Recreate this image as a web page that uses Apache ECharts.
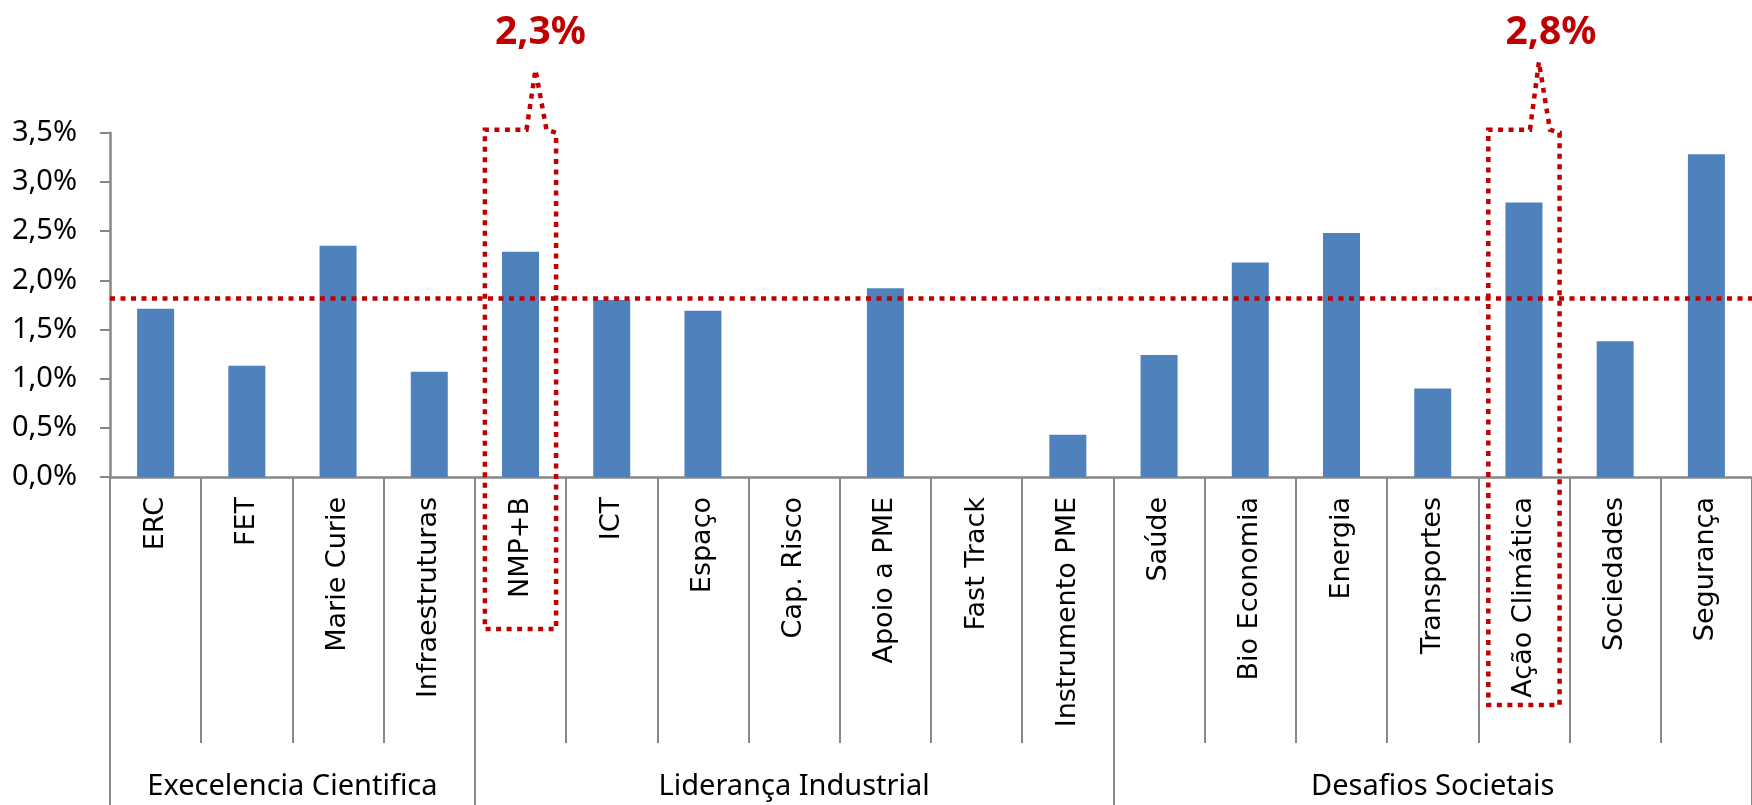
<!DOCTYPE html>
<html>
<head>
<meta charset="utf-8">
<script src="https://cdn.jsdelivr.net/npm/echarts@6/dist/echarts.min.js"></script>
<style>
html,body{margin:0;padding:0;background:#fff;}
#c{width:1752px;height:805px;}
</style>
</head>
<body>
<div id="c"></div>
<script>
const categories = ['ERC','FET','Marie Curie','Infraestruturas','NMP+B','ICT','Espaço','Cap. Risco','Apoio a PME','Fast Track','Instrumento PME','Saúde','Bio Economia','Energia','Transportes','Ação Climática','Sociedades','Segurança'];
const values = [1.71,1.13,2.35,1.07,2.29,1.80,1.69,0,1.92,0,0.43,1.24,2.18,2.48,0.90,2.79,1.38,3.28];
const groupNames = ['Execelencia Cientifica','Liderança Industrial','Desafios Societais'];
const groupStarts = [0,4,11];
const groupSizes = [4,7,7];
const yMin = 0, yMax = 3.5, yStep = 0.5;
const mediaGlobal = 1.82;
const destaques = ['NMP+B','Ação Climática'];

const RED = '#C00000';
const GRAY = '#878787';
const fmt = v => v.toFixed(1).replace('.', ',') + '%';

const chart = echarts.init(document.getElementById('c'), null, {renderer:'canvas'});
const option = {
  animation:false,
  backgroundColor:'#fff',
  grid:{left:110, right:-3, top:132.7, bottom:328, containLabel:false},
  xAxis:[{
    type:'category', data:categories, position:'bottom',
    axisLine:{show:true, lineStyle:{color:GRAY, width:2.5}},
    axisTick:{show:true, interval:0, length:266, lineStyle:{color:GRAY, width:2}},
    axisLabel:{show:true, interval:0, rotate:90, margin:20, color:'#000', fontFamily:'DejaVu Sans', fontSize:27}
  },{
    type:'category', data:categories, position:'bottom',
    axisLine:{show:false},
    axisTick:{show:true, length:328, interval:function(i){return groupStarts.indexOf(i) >= 0;}, lineStyle:{color:GRAY, width:2}},
    axisLabel:{show:false}
  }],
  yAxis:{
    type:'value', min:yMin, max:yMax, interval:yStep,
    axisLine:{show:true, lineStyle:{color:GRAY, width:2.5}},
    axisTick:{show:true, length:10, lineStyle:{color:GRAY, width:2}},
    splitLine:{show:false},
    axisLabel:{margin:33, color:'#000', fontFamily:'Noto Sans', fontSize:29, formatter:fmt}
  },
  series:[{
    type:'bar', data:values, barWidth:37, xAxisIndex:0,
    itemStyle:{color:'#4F81BD', borderWidth:0},
    markLine:{
      silent:true, symbol:['none','none'], label:{show:false},
      lineStyle:{color:RED, width:4.5, type:[5,5.5], cap:'butt'},
      data:[{yAxis:mediaGlobal}]
    }
  }]
};
chart.setOption(option);

// annotation callouts and group labels, placed via the chart's own scales
const y0 = chart.convertToPixel({yAxisIndex:0}, 0);
const yTop = chart.convertToPixel({yAxisIndex:0}, 3.53);
const band = chart.convertToPixel({xAxisIndex:0}, categories[1]) - chart.convertToPixel({xAxisIndex:0}, categories[0]);
const boxDrop = {'NMP+B':152, 'Ação Climática':228};
const tipY = {'NMP+B':70, 'Ação Climática':62};
const textDx = {'NMP+B':20, 'Ação Climática':27};
const elements = [];
destaques.forEach(name => {
  const idx = categories.indexOf(name);
  const cx = chart.convertToPixel({xAxisIndex:0}, name);
  const L = cx - band/2 + 10, R = cx + band/2 - 10;
  const B = y0 + boxDrop[name];
  elements.push({
    type:'polygon', z:100,
    shape:{points:[[cx+6,yTop],[cx+15,tipY[name]],[cx+26,yTop],[R,yTop+3],[R,B],[L,B],[L,yTop]]},
    style:{fill:null, stroke:RED, lineWidth:4.5, lineDash:[5,5.5]}
  });
  elements.push({
    type:'text', z:101, x:cx+textDx[name], y:33,
    style:{text:fmt(values[idx]), fill:RED, font:'bold 39px "Noto Sans"', align:'center', verticalAlign:'middle'}
  });
});
groupNames.forEach((g, k) => {
  const first = categories[groupStarts[k]];
  const last = categories[groupStarts[k] + groupSizes[k] - 1];
  const x1 = chart.convertToPixel({xAxisIndex:0}, first) - band/2;
  let x2 = chart.convertToPixel({xAxisIndex:0}, last) + band/2;
  x2 = Math.min(x2, 1752);
  elements.push({
    type:'text', z:50, x:(x1+x2)/2, y:787,
    style:{text:g, fill:'#000', font:'29px "Noto Sans"', align:'center', verticalAlign:'middle'}
  });
});
chart.setOption({graphic:{elements:elements}});
</script>
</body>
</html>
